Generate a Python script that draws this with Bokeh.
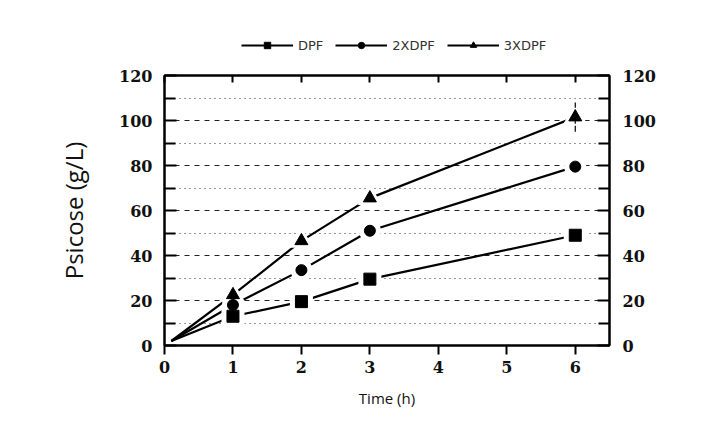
from bokeh.plotting import figure
from bokeh.layouts import column
from bokeh.models import (Range1d, LinearAxis, FixedTicker, Legend, LegendItem,
                          ColumnDataSource, Grid)
from bokeh.embed import file_html
from bokeh.resources import INLINE

# ---- data ----
time_h = [0.1, 1, 2, 3, 6]
dpf = [2, 13, 19.5, 29.5, 49]
dpf2x = [2, 18, 33.5, 51, 79.5]
dpf3x = [2, 22.5, 46.5, 65.5, 101.5]
err3x = [0, 0, 0, 0, 6.5]
series_names = ["DPF", "2XDPF", "3XDPF"]
x_ticks = [0, 1, 2, 3, 4, 5, 6]
y_ticks = [0, 20, 40, 60, 80, 100, 120]
y_minor = [10, 30, 50, 70, 90, 110]

TICK_FONT = "DejaVu Serif"
markers = ["square", "circle", "triangle"]
sizes = [12, 11, 13]
series = [dpf, dpf2x, dpf3x]

# ---------- legend strip (separate figure above the chart) ----------
leg_fig = figure(width=700, height=60, output_backend="svg", toolbar_location=None,
                 x_range=Range1d(0, 1), y_range=Range1d(0, 1),
                 min_border=0, x_axis_type=None, y_axis_type=None)
leg_fig.outline_line_color = None
leg_fig.background_fill_color = "white"
leg_fig.border_fill_color = "white"
items = []
for name, m in zip(series_names, markers):
    # placeholder point outside the visible range: only the legend glyph shows
    lr = leg_fig.line(x=[-5, -4], y=[-5, -5], line_color="black", line_width=2.2)
    hr = leg_fig.scatter(x=[-5], y=[-5], marker=m, size=15, fill_color="white",
                         line_color=None)
    mr = leg_fig.scatter(x=[-5], y=[-5], marker=m, size=9, fill_color="black",
                         line_color="black")
    items.append(LegendItem(label=name, renderers=[lr, hr, mr]))
legend = Legend(items=items, orientation="horizontal", location=(77, 7),
                glyph_width=52, glyph_height=16, label_standoff=5, spacing=12,
                padding=0, margin=0, background_fill_alpha=0,
                border_line_alpha=0, label_text_font="DejaVu Sans",
                label_text_font_size="13px", label_text_color="#333333",
                label_height=16)
leg_fig.add_layout(legend, "center")

# ---------- main chart ----------
p = figure(width=700, height=350, output_backend="svg", toolbar_location=None,
           x_range=Range1d(0, 6.5), y_range=Range1d(0, 120),
           min_border_left=164, min_border_right=91, min_border_top=15,
           min_border_bottom=62, x_axis_type=None, y_axis_type=None)
p.outline_line_color = "black"
p.outline_line_width = 2
p.background_fill_color = "white"
p.border_fill_color = "white"

grid = Grid(dimension=1, ticker=FixedTicker(ticks=y_ticks, minor_ticks=y_minor),
            grid_line_color="#222222", grid_line_dash="5 5", grid_line_width=1,
            minor_grid_line_color="#333333", minor_grid_line_dash="1 4",
            minor_grid_line_width=1)
p.add_layout(grid, "center")

def style_y(ax, standoff):
    ax.ticker = FixedTicker(ticks=y_ticks, minor_ticks=y_minor)
    ax.axis_line_width = 2
    ax.major_tick_in = 12
    ax.major_tick_out = 0
    ax.minor_tick_in = 11
    ax.minor_tick_out = 0
    ax.major_tick_line_width = 2
    ax.minor_tick_line_width = 2
    ax.major_label_text_font = TICK_FONT
    ax.major_label_text_font_size = "16px"
    ax.major_label_text_font_style = "bold"
    ax.major_label_text_color = "#111111"
    ax.major_label_standoff = standoff

yl = LinearAxis(axis_label="Psicose (g/L)")
style_y(yl, 12)
yl.axis_label_text_font = "Open Sans"
yl.axis_label_text_font_style = "normal"
yl.axis_label_text_font_size = "24px"
yl.axis_label_text_color = "#111111"
yl.axis_label_standoff = 26
p.add_layout(yl, "left")

yr = LinearAxis()
style_y(yr, 13)
p.add_layout(yr, "right")

xb = LinearAxis(axis_label="Time (h)")
xb.ticker = FixedTicker(ticks=x_ticks, minor_ticks=[])
xb.axis_line_width = 2
xb.major_tick_in = 0
xb.major_tick_out = 9
xb.major_tick_line_width = 2
xb.major_label_text_font = TICK_FONT
xb.major_label_text_font_size = "16px"
xb.major_label_text_font_style = "bold"
xb.major_label_text_color = "#111111"
xb.major_label_standoff = 6
xb.axis_label_text_font = "Open Sans"
xb.axis_label_text_font_style = "normal"
xb.axis_label_text_font_size = "15px"
xb.axis_label_text_color = "#111111"
xb.axis_label_standoff = 12
p.add_layout(xb, "below")

xt = LinearAxis()
xt.ticker = FixedTicker(ticks=x_ticks, minor_ticks=[])
xt.axis_line_width = 2
xt.major_tick_in = 7
xt.major_tick_out = 0
xt.major_tick_line_width = 2
xt.major_label_text_font_size = "0px"
xt.major_label_text_alpha = 0
p.add_layout(xt, "above")

for vals in series:
    p.line(time_h, vals, line_color="black", line_width=2.2)
for vals, m, s in zip(series, markers, sizes):
    p.scatter(time_h[1:], vals[1:], marker=m, size=s + 11,
              fill_color="white", line_color=None)

# error bar (drawn over the white halo, under the marker)
src_err = ColumnDataSource(dict(x=time_h[1:],
                                lo=[v - e for v, e in zip(dpf3x[1:], err3x[1:])],
                                hi=[v + e for v, e in zip(dpf3x[1:], err3x[1:])]))
p.segment(x0="x", y0="lo", x1="x", y1="hi", source=src_err,
          line_color="black", line_width=1.2, line_dash="6 2")

for vals, m, s in zip(series, markers, sizes):
    p.scatter(time_h[1:], vals[1:], marker=m, size=s,
              fill_color="black", line_color="black")

layout = column(leg_fig, p, spacing=0)
open("out.html", "w").write(file_html(layout, INLINE))
